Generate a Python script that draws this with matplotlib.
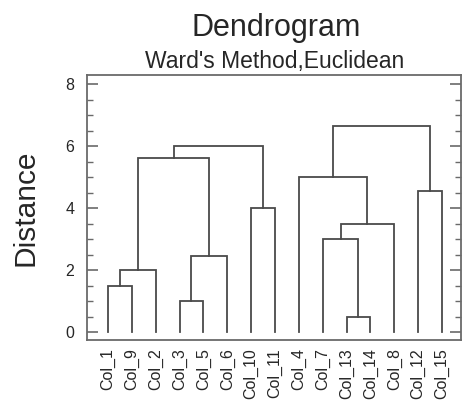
import matplotlib
matplotlib.use("Agg")
import matplotlib.pyplot as plt
from matplotlib.ticker import MultipleLocator

plt.rcParams['font.family'] = ['Liberation Sans', 'DejaVu Sans']

# Leaf labels in dendrogram order
leaves = ["Col_1", "Col_9", "Col_2", "Col_3", "Col_5", "Col_6", "Col_10", "Col_11",
          "Col_4", "Col_7", "Col_13", "Col_14", "Col_8", "Col_12", "Col_15"]

# Merge steps (scipy-like ids: 0..14 leaves, 15+ merged clusters)
merge_left = [0, 15, 3, 17, 16, 6, 19, 10, 9, 23, 8, 13, 25]
merge_right = [1, 2, 4, 5, 18, 7, 20, 11, 22, 12, 24, 14, 26]
merge_height = [1.5, 2.0, 1.0, 2.45, 5.6, 4.0, 6.0, 0.5, 3.0, 3.5, 5.0, 4.55, 6.65]

line_color = "#4a4a4a"
spine_color = "#6a6a6a"
text_color = "#262626"

fig = plt.figure(figsize=(4.64, 4.12), dpi=100)
ax = fig.add_axes([87 / 464, 1 - 340 / 412, (461 - 87) / 464, (340 - 75) / 412])

pos = {i: (float(i), 0.0) for i in range(len(leaves))}
nid = len(leaves)
for l, r, h in zip(merge_left, merge_right, merge_height):
    xl, yl = pos[l]
    xr, yr = pos[r]
    ax.plot([xl, xl, xr, xr], [yl, h, h, yr], color=line_color, lw=1.3,
            solid_joinstyle="miter", solid_capstyle="projecting")
    pos[nid] = ((xl + xr) / 2.0, h)
    nid += 1

ax.set_xlim(-0.88, 14.8)
ax.set_ylim(-0.25, 8.29)

ax.set_xticks(range(len(leaves)))
ax.set_xticklabels(leaves, rotation=90, fontsize=11.5, color=text_color)
ax.tick_params(axis="x", length=0, pad=6)

ax.yaxis.set_major_locator(MultipleLocator(2))
ax.yaxis.set_minor_locator(MultipleLocator(0.5))
ax.tick_params(axis="y", which="major", direction="in", length=8, width=1.2,
               color=spine_color, labelsize=11.5, labelcolor=text_color, pad=9,
               right=True)
ax.tick_params(axis="y", which="minor", direction="in", length=4, width=1.0,
               color=spine_color, right=True)

for s in ax.spines.values():
    s.set_color(spine_color)
    s.set_linewidth(1.3)

ax.set_ylabel("Distance", fontsize=21.5, color=text_color, labelpad=19)

fig.text(276 / 464, 1 - 36 / 412, "Dendrogram", ha="center", va="baseline",
         fontsize=22, color=text_color)
fig.text(275 / 464, 1 - 68 / 412, "Ward's Method,Euclidean", ha="center",
         va="baseline", fontsize=16.5, color=text_color)

fig.savefig("out.png", dpi=100)
